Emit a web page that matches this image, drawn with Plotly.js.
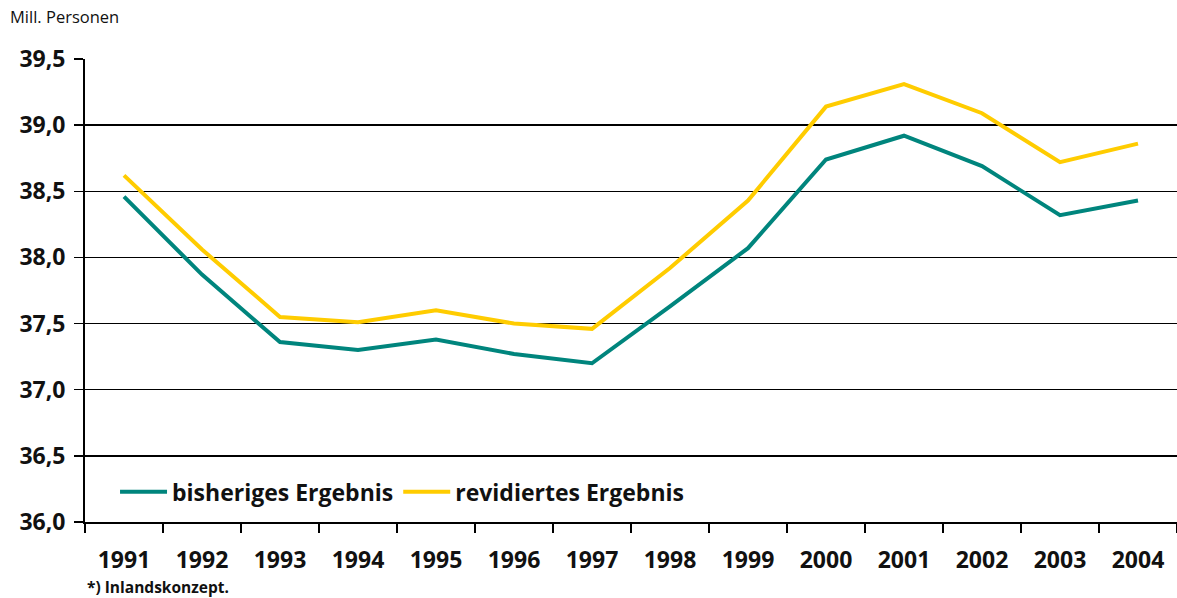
<!DOCTYPE html>
<html>
<head>
<meta charset="utf-8">
<script src="https://cdn.plot.ly/plotly-3.0.1.min.js"></script>
<style>html,body{margin:0;padding:0;background:#fff;}#chart{width:1177px;height:598px;}</style>
</head>
<body>
<div id="chart"></div>
<script>
const years = ["1991","1992","1993","1994","1995","1996","1997","1998","1999","2000","2001","2002","2003","2004"];
const bisheriges = [38.46,37.87,37.36,37.30,37.38,37.27,37.20,37.63,38.07,38.74,38.92,38.69,38.32,38.43];
const revidiertes = [38.62,38.06,37.55,37.51,37.60,37.50,37.46,37.92,38.43,39.14,39.31,39.09,38.72,38.86];
const seriesNames = ["bisheriges Ergebnis","revidiertes Ergebnis"];
const yTicks = [36.0,36.5,37.0,37.5,38.0,38.5,39.0,39.5];

const FONT = "Open Sans, DejaVu Sans, sans-serif";

const traces = [
  {x: years, y: bisheriges, name: seriesNames[0], type: "scatter", mode: "lines",
   line: {color: "#00857d", width: 4}},
  {x: years, y: revidiertes, name: seriesNames[1], type: "scatter", mode: "lines",
   line: {color: "#ffcc00", width: 4}}
];

const layout = {
  width: 1177, height: 598,
  margin: {l: 85, r: 0, t: 59, b: 76, pad: 0},
  paper_bgcolor: "#fff", plot_bgcolor: "#fff",
  separators: ",.",
  showlegend: true,
  legend: {orientation: "h", x: 0.0275, y: 0.065, xanchor: "left", yanchor: "middle",
    bgcolor: "rgba(0,0,0,0)", font: {family: FONT, size: 23, color: "#111", weight: 700},
    itemwidth: 47, tracegroupgap: 0},
  xaxis: {
    type: "category", range: [-0.5, 13.5], fixedrange: true,
    showline: true, linecolor: "#000", linewidth: 2,
    ticks: "outside", tickson: "boundaries", ticklen: 9, tickwidth: 1.5, tickcolor: "#000",
    showgrid: false, zeroline: false,
    tickfont: {family: FONT, size: 23, color: "#111", weight: 700},
    ticklabelstandoff: 16
  },
  yaxis: {
    range: [36, 39.5], tickvals: yTicks, tickformat: ".1f", fixedrange: true,
    showline: true, linecolor: "#000", linewidth: 2,
    ticks: "outside", ticklen: 9, tickwidth: 1.5, tickcolor: "#000",
    showgrid: true, gridcolor: "#000", gridwidth: 1.5, zeroline: false,
    tickfont: {family: FONT, size: 23, color: "#111", weight: 700},
    ticklabelstandoff: 4
  },
  annotations: [
    {text: "Mill. Personen", xref: "paper", yref: "paper", x: -85/1092, y: 1 + 42/463,
     xanchor: "left", yanchor: "middle", showarrow: false, xshift: 8,
     font: {family: FONT, size: 16.5, color: "#111"}},
    {text: "*) Inlandskonzept.", xref: "paper", yref: "paper", x: 0, y: -65/463,
     xanchor: "left", yanchor: "middle", showarrow: false,
     font: {family: FONT, size: 15.5, color: "#111", weight: 700}}
  ]
};

Plotly.newPlot("chart", traces, layout, {staticPlot: true, displayModeBar: false});
</script>
</body>
</html>
